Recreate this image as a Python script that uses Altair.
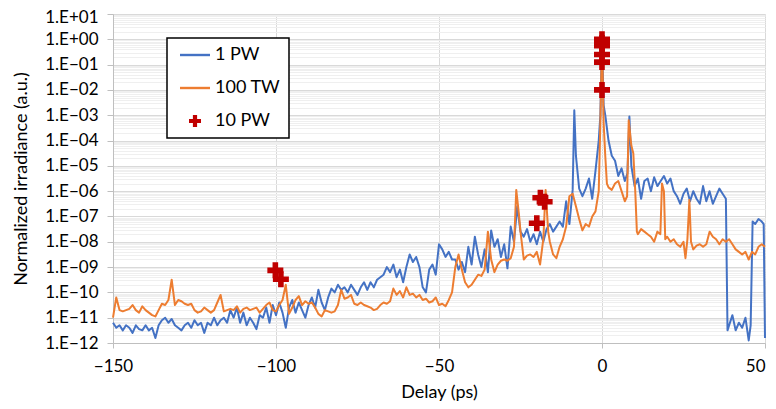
import altair as alt
import pandas as pd

# ---------------- data (log10 of normalized irradiance) ----------------
# 1 PW: 1-ps grid from -150 to -9, then irregular points
blue_grid_start, blue_grid_end = -150, -8
blue_grid_exp = [
    -11.2, -11.4, -11.3, -11.5, -11.3, -11.4, -11.6, -11.3, -11.45, -11.5,
    -11.3, -11.5, -11.4, -11.8, -11.3, -11.1, -11.0, -11.2, -11.05, -11.3,
    -11.4, -11.5, -11.3, -11.2, -11.4, -11.1, -11.3, -11.2, -11.6, -11.2,
    -11.3, -11.0, -11.3, -11.1, -11.0, -11.2, -10.7, -11.0, -10.6, -11.2,
    -10.8, -11.3, -11.0, -11.2, -11.45, -10.9, -11.0, -10.6, -11.2, -10.5,
    -10.9, -10.4, -10.8, -11.4, -10.6, -10.3, -10.8, -10.4, -10.7, -11.0,
    -10.5, -10.2, -10.6, -9.9, -10.4, -10.7, -10.2, -9.85, -10.0, -9.7,
    -9.9, -9.8, -10.0, -9.7, -9.9, -10.1, -9.8, -9.6, -9.9, -9.6,
    -9.8, -9.5, -9.4, -9.3, -9.0, -9.2, -8.9, -9.4, -9.1, -9.6,
    -9.0, -8.5, -8.8, -8.6, -9.0, -9.8, -10.0, -9.1, -8.9, -9.3,
    -8.1, -8.3, -8.6, -8.4, -8.7, -8.7, -9.1, -8.8, -9.2, -8.2,
    -8.9, -7.8, -8.5, -9.0, -8.3, -9.2, -7.55, -8.2, -7.9, -8.6,
    -8.1, -9.05, -7.4, -8.0, -6.6, -7.6, -7.8, -7.5, -8.0, -7.7,
    -8.1, -7.6, -8.0, -7.5, -7.3, -7.6, -7.4, -7.2, -7.4, -6.4,
    -7.3, -5.95,
]
blue_tail_delay = [
    -8.5, -8, -7, -6, -5, -4, -3, -2, -1, -0.5, 0, 0.5, 1, 2, 3, 4, 5, 6, 7, 7.8,
    8.4, 9, 10, 11, 12, 13, 14, 15, 16, 17, 18, 19, 20, 21, 22, 23, 24, 25, 26, 27,
    28, 29, 30, 31, 32, 33, 34, 35, 36, 37, 38, 38.5, 39, 40, 41, 42, 43, 44, 45, 45.6,
    46.2, 47, 48, 49, 49.6, 50,
]
blue_tail_exp = [
    -2.8, -4.6, -5.9, -6.2, -5.9, -5.5, -6.3, -5.2, -4.0, -3.0, 0.0, -2.6, -3.0, -4.0, -4.6, -4.8, -5.4, -5.1, -5.6, -5.3,
    -3.05, -5.0, -5.8, -5.5, -6.3, -5.6, -5.5, -6.0, -5.45, -5.8, -5.6, -5.4, -5.7, -5.5, -6.0, -6.2, -6.5, -6.1, -5.9, -6.4,
    -6.0, -6.3, -6.5, -5.8, -6.4, -6.0, -6.5, -6.2, -5.9, -6.1, -6.3, -11.5, -11.3, -10.9, -11.5, -11.2, -11.4, -11.0, -11.9, -11.3,
    -7.2, -7.3, -7.1, -7.2, -7.3, -11.8,
]

# 100 TW: 1-ps grid from -150 to -27, then irregular points
orange_grid_start, orange_grid_end = -150, -26
orange_grid_exp = [
    -11.0, -10.2, -10.7, -10.75, -10.7, -10.65, -10.5, -10.7, -10.8, -10.55,
    -10.7, -10.8, -10.9, -10.95, -10.7, -10.45, -10.5, -10.3, -9.5, -10.5,
    -10.3, -10.35, -10.45, -10.5, -10.45, -10.7, -10.8, -10.75, -10.6, -10.7,
    -10.8, -10.7, -10.4, -10.1, -10.75, -10.7, -10.65, -10.7, -10.55, -10.8,
    -10.65, -10.6, -10.7, -10.65, -10.6, -10.8, -10.65, -10.5, -10.4, -10.7,
    -10.75, -10.5, -10.3, -9.7, -10.85, -10.6, -10.3, -10.15, -10.5, -10.35,
    -10.45, -10.4, -10.6, -10.85, -10.95, -10.7, -10.75, -10.8, -10.75, -10.5,
    -9.9, -10.25, -10.2, -10.1, -10.45, -10.5, -10.4, -10.5, -10.55, -10.6,
    -10.7, -10.65, -10.5, -10.4, -10.45, -10.35, -9.85, -10.1, -9.95, -10.2,
    -9.8, -10.1, -10.05, -10.2, -10.1, -10.3, -10.25, -10.4, -10.35, -10.2,
    -10.5, -10.45, -10.55, -10.3, -10.0, -9.0, -8.5, -9.1, -9.6, -9.8,
    -9.7, -9.5, -9.3, -9.35, -9.1, -7.6, -8.7, -9.2, -8.9, -8.75,
    -8.7, -8.75, -8.65, -8.2,
]
orange_tail_delay = [
    -26.3, -25.5, -25, -24, -23, -22, -21, -20, -19, -18, -17.3, -16.5, -16, -15, -14, -13, -12, -11, -10, -9,
    -8, -7, -6, -5, -4, -3, -2, -1, -0.5, 0, 0.5, 1, 1.5, 2, 3, 4, 5, 6, 7, 7.7,
    8.2, 9, 9.6, 10.2, 10.7, 11, 12, 13, 14, 15, 16, 17, 17.9, 18.4, 19, 19.4, 20, 21, 22, 23,
    24, 25, 25.6, 26.2, 26.8, 27.3, 28, 29, 30, 31, 32, 33, 34, 35, 36, 37, 38, 39, 40, 41,
    42, 43, 44, 45, 46, 47, 48, 49, 50,
]
orange_tail_exp = [
    -5.95, -6.9, -7.6, -8.7, -8.55, -8.5, -8.6, -8.4, -8.9, -7.9, -5.95, -7.6, -8.0, -8.5, -8.65, -8.2, -7.9, -7.4, -6.2, -6.1,
    -6.6, -7.1, -7.55, -7.3, -7.4, -7.0, -6.8, -6.0, -3.3, 0.0, -3.3, -4.6, -5.7, -5.85, -5.95, -5.7, -5.6, -6.0, -6.4, -6.2,
    -3.2, -4.2, -4.5, -6.0, -7.6, -7.7, -7.5, -7.6, -7.7, -7.8, -8.0, -7.6, -7.7, -5.7, -6.0, -7.9, -7.8, -8.0, -7.9, -8.1,
    -8.2, -8.0, -8.65, -7.9, -6.35, -8.0, -8.3, -8.15, -8.1, -8.2, -8.1, -7.6, -7.8, -7.9, -8.1, -7.9, -8.0, -7.9, -8.1, -8.3,
    -8.4, -8.5, -8.4, -8.7, -8.4, -8.5, -8.2, -8.1, -8.2,
]

# 10 PW markers
pw10_delay = [-100.2, -98.5, -20.0, -18.9, -17.6, 0, 0, 0, 0, 0, 0]
pw10_exp = [-9.13, -9.48, -7.27, -6.26, -6.42, 0.0, -0.15, -0.25, -0.6, -0.9, -2.0]

series_names = ["1 PW", "100 TW", "10 PW"]
series_colors = ["#4472C4", "#ED7D31", "#C00000"]

major_exp = list(range(-12, 2))

# ---------------- tables ----------------
blue_delay = list(range(blue_grid_start, blue_grid_end)) + blue_tail_delay
blue_exp = blue_grid_exp + blue_tail_exp
orange_delay = list(range(orange_grid_start, orange_grid_end)) + orange_tail_delay
orange_exp = orange_grid_exp + orange_tail_exp

df_blue = pd.DataFrame({"delay": blue_delay, "value": [10.0 ** e for e in blue_exp]})
df_orange = pd.DataFrame({"delay": orange_delay, "value": [10.0 ** e for e in orange_exp]})
df_pts = pd.DataFrame({
    "delay": pw10_delay,
    "value": [10.0 ** e for e in pw10_exp],
    "series": ["10 PW"] * len(pw10_delay),
})

major_vals = [10.0 ** e for e in major_exp]
minor_vals = [m * 10.0 ** e for e in range(-12, 1) for m in range(2, 10)]

FONT = "Lato"
line_path = "M-2,-0.16H2V0.16H-2Z"
cross_path = "M-0.8,-0.28H-0.28V-0.8H0.28V-0.28H0.8V0.28H0.28V0.8H-0.28V0.28H-0.8Z"

xscale = alt.Scale(domain=[-150, 50], nice=False, zero=False)
yscale = alt.Scale(type="log", domain=[1e-12, 10], nice=False)

x_enc = alt.X(
    "delay:Q", scale=xscale,
    axis=alt.Axis(
        values=[-150, -100, -50, 0, 50], title="Delay (ps)", grid=True,
        gridColor="#d9d9d9", domainColor="#bfbfbf", tickColor="#bfbfbf",
        tickSize=5, labelPadding=10, labelFont=FONT, labelFontSize=17,
        labelColor="#000000", labelFlush=False, labelOverlap=False,
        labelAlign={"condition": {"test": "datum.value >= 50", "value": "right"}, "value": "center"},
        titleFont=FONT, titleFontSize=18,
        titleFontWeight="normal", titleColor="#000000",
        titleBaseline="alphabetic", titleY=54,
    ),
)

ylabel = ("'1.E' + (round(log(datum.value)/LN10) < 0 ? '\u2212' : '+') + "
          "(abs(round(log(datum.value)/LN10)) < 10 ? '0' : '') + "
          "abs(round(log(datum.value)/LN10))")

blue = alt.Chart(df_blue).mark_line(
    color=series_colors[0], strokeWidth=2, strokeJoin="round"
).encode(
    x=x_enc,
    y=alt.Y(
        "value:Q", scale=yscale,
        axis=alt.Axis(
            values=major_vals, labelExpr=ylabel, title="Normalized irradiance (a.u.)",
            grid=True, gridColor="#d9d9d9", domainColor="#bfbfbf", tickColor="#bfbfbf",
            tickSize=6, labelPadding=9, labelFont=FONT, labelFontSize=17,
            labelColor="#000000", labelFlush=False, labelOverlap=False,
            labelOffset={"condition": {"test": "datum.value >= 10", "value": 3}, "value": 0},
            titleFont=FONT, titleFontSize=18,
            titleFontWeight="normal", titleColor="#000000",
            titleBaseline="alphabetic", titleX=-87, orient="left",
        ),
    ),
)

orange = alt.Chart(df_orange).mark_line(
    color=series_colors[1], strokeWidth=2, strokeJoin="round"
).encode(
    x=alt.X("delay:Q", scale=xscale),
    y=alt.Y(
        "value:Q", scale=yscale,
        axis=alt.Axis(
            values=minor_vals, labels=False, ticks=False, domain=False,
            grid=True, gridColor="#efefef", title=None, orient="right",
        ),
    ),
)

legend = alt.Legend(
    orient="none", legendX=54, legendY=24, title=None,
    strokeColor="#000000", fillColor="#ffffff", padding=8,
    symbolSize=225, symbolOffset=11, labelOffset=11, rowPadding=15,
    symbolStrokeWidth=0, labelFont=FONT, labelFontSize=18, labelColor="#000000",
    labelExpr="datum.label + '\u00a0\u00a0'",
)

points = alt.Chart(df_pts).mark_point(
    filled=True, size=400, opacity=1
).encode(
    x=alt.X("delay:Q", scale=xscale),
    y=alt.Y("value:Q", scale=yscale, axis=None),
    color=alt.Color("series:N", scale=alt.Scale(domain=series_names, range=series_colors), legend=legend),
    shape=alt.Shape("series:N", scale=alt.Scale(domain=series_names, range=[line_path, line_path, cross_path]), legend=legend),
)

chart = alt.layer(blue, orange, points).resolve_axis(y="independent").properties(
    width=652, height=329,
    autosize=alt.AutoSizeParams(type="none"),
    padding={"left": 105, "top": 6, "right": 3, "bottom": 58},
).configure_view(stroke=None).configure_legend(strokeWidth=1.5)

chart.save("out.html", embed_options={"renderer": "svg", "actions": False})
